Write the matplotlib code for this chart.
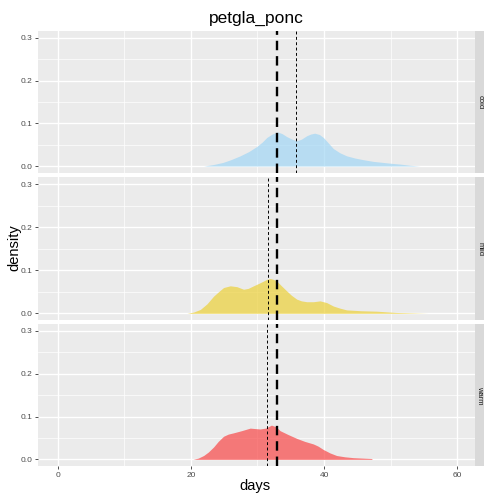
import matplotlib
matplotlib.use("Agg")
import matplotlib.pyplot as plt

plt.rcParams["font.family"] = ["Liberation Sans", "DejaVu Sans"]

# density curves per temperature group (days, density)
groups = ["cold", "mild", "warm"]

cold_days = [21.9, 23.5, 24.8, 26.0, 27.4, 28.7, 29.9, 30.7, 31.4, 32.2, 33.0, 33.7,
             34.4, 35.2, 35.9, 36.6, 37.4, 38.0, 38.6, 39.3, 39.9, 40.6, 41.4, 42.4,
             43.4, 44.6, 45.9, 47.4, 48.9, 50.1, 51.4, 52.9, 54.4]
cold_dens = [0.0, 0.004, 0.0085, 0.015, 0.024, 0.034, 0.046, 0.056, 0.067, 0.075, 0.080, 0.076,
             0.069, 0.063, 0.059, 0.063, 0.071, 0.075, 0.077, 0.074, 0.067, 0.055, 0.041, 0.031,
             0.024, 0.019, 0.015, 0.011, 0.0085, 0.0065, 0.0047, 0.002, 0.0]

mild_days = [19.4, 20.4, 21.4, 22.4, 23.4, 24.2, 24.9, 25.9, 26.9, 27.9, 28.6, 29.4,
             30.1, 30.9, 31.4, 31.9, 32.4, 32.9, 33.6, 34.4, 35.1, 35.9, 36.6, 37.4,
             38.4, 39.4, 40.4, 41.4, 42.4, 43.4, 45.6, 47.9, 50.9, 53.2, 55.6]
mild_dens = [0.0, 0.003, 0.009, 0.022, 0.040, 0.051, 0.060, 0.064, 0.062, 0.056, 0.058, 0.064,
             0.069, 0.075, 0.079, 0.081, 0.079, 0.075, 0.064, 0.052, 0.042, 0.033, 0.029, 0.027,
             0.027, 0.029, 0.025, 0.017, 0.012, 0.008, 0.006, 0.005, 0.002, 0.001, 0.0]

warm_days = [20.3, 21.1, 21.9, 22.6, 23.4, 24.1, 24.9, 25.6, 26.4, 27.6, 28.9, 29.6,
             30.4, 31.2, 32.1, 32.8, 33.4, 34.6, 35.9, 37.1, 38.4, 39.1, 39.9, 40.9,
             41.9, 43.1, 44.4, 45.8, 47.2]
warm_dens = [0.0, 0.003, 0.009, 0.017, 0.029, 0.042, 0.054, 0.059, 0.062, 0.067, 0.073, 0.072,
             0.071, 0.073, 0.080, 0.076, 0.067, 0.058, 0.049, 0.042, 0.036, 0.031, 0.023, 0.015,
             0.009, 0.006, 0.004, 0.003, 0.002]

# overall mean (thick dashed) and group means (thin dashed)
overall_mean = 32.9
group_means = [35.8, 31.6, 31.5]

fills = ["#a1d6f5", "#ecd038", "#f94747"]
curves = [(cold_days, cold_dens), (mild_days, mild_dens), (warm_days, warm_dens)]

W, H = 485, 495
fig = plt.figure(figsize=(W / 100, H / 100), dpi=100)

left, right = 38, 475
panel_px = [(31, 172.7), (177.3, 320), (324, 466)]
tick_col = "#4d4d4d"

for i, (g, (xd, yd)) in enumerate(zip(groups, curves)):
    top, bot = panel_px[i]
    ax = fig.add_axes([left / W, 1 - bot / H, (right - left) / W, (bot - top) / H])
    ax.set_facecolor("#ebebeb")
    ax.set_xlim(-3, 62.7)
    ax.set_ylim(-0.0155, 0.3163)
    ax.set_xticks([0, 20, 40, 60])
    ax.set_xticks([10, 30, 50], minor=True)
    ax.set_yticks([0.0, 0.1, 0.2, 0.3])
    ax.set_yticks([0.05, 0.15, 0.25], minor=True)
    ax.grid(which="major", color="white", lw=1.0)
    ax.grid(which="minor", color="white", lw=0.5)
    ax.set_axisbelow(True)
    for s in ax.spines.values():
        s.set_visible(False)
    ax.tick_params(which="minor", length=0)
    ax.tick_params(which="major", length=2.5, width=0.6, color="#333333",
                   labelsize=6, labelcolor=tick_col, pad=1.5)
    ax.set_yticklabels(["0.0", "0.1", "0.2", "0.3"])

    ax.fill_between(xd, 0, yd, color=fills[i], alpha=0.7, lw=0)

    ax.axvline(overall_mean, color="black", lw=1.7, ls=(0, (4, 2.5)))
    ax.axvline(group_means[i], color="black", lw=0.7, ls=(0, (3, 2.5)))

    if i < 2:
        ax.tick_params(axis="x", labelbottom=False, length=0)

    # facet strip on the right
    sx = fig.add_axes([right / W, 1 - bot / H, 9.5 / W, (bot - top) / H])
    sx.set_facecolor("#d9d9d9")
    sx.set_xticks([])
    sx.set_yticks([])
    for s in sx.spines.values():
        s.set_visible(False)
    sx.text(0.5, 0.5, g, rotation=-90, ha="center", va="center",
            fontsize=5.5, color="#1a1a1a", transform=sx.transAxes)

fig.text(256 / W, 1 - 18 / H, "petgla_ponc", ha="center", va="center",
         fontsize=12.5, color="black")
fig.text(255 / W, 1 - 486 / H, "days", ha="center", va="center",
         fontsize=10.5, color="black")
fig.text(14 / W, 1 - 248 / H, "density", ha="center", va="center",
         rotation=90, fontsize=10.5, color="black")

fig.savefig("out.png", dpi=100)
